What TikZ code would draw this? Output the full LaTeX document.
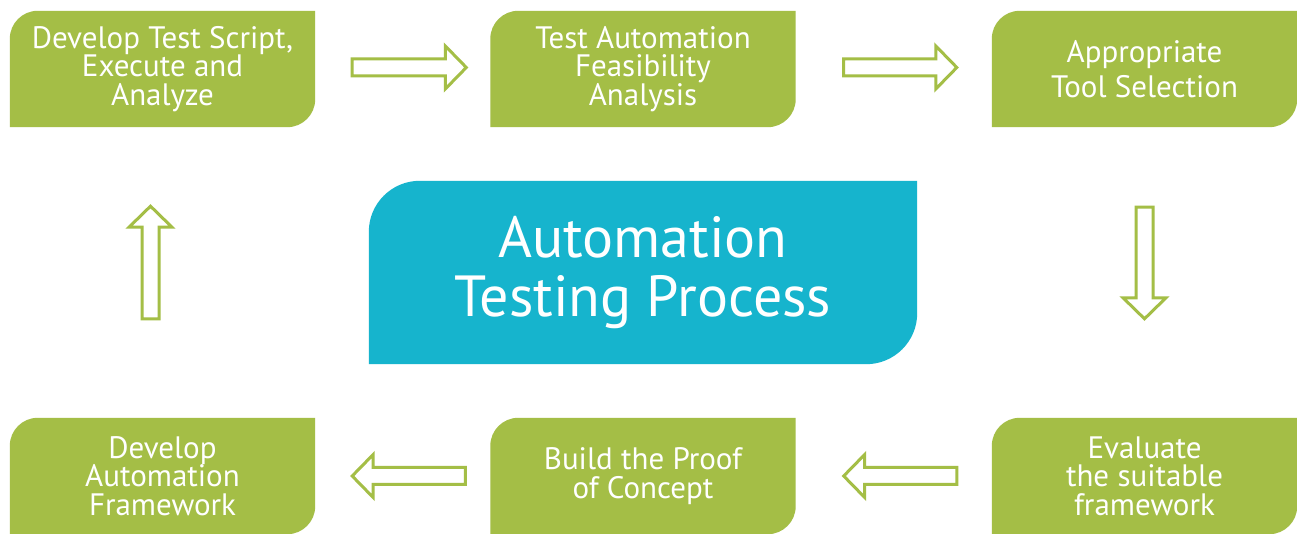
\documentclass[tikz,border=0pt]{standalone}
\usepackage{fontspec}
\setmainfont{PT Sans}
\usetikzlibrary{calc,backgrounds}

\definecolor{leafgreen}{RGB}{164,190,70}
\definecolor{hubteal}{RGB}{22,180,205}

% leaf-shaped panel: rounded top-left and bottom-right corners
\newcommand\leafpanel[3]{% node name, corner radius, colour
  \fill[#3] (#1.south west) -- ([yshift=-#2]#1.north west)
    arc[start angle=180, end angle=90, radius=#2] -- (#1.north east)
    -- ([yshift=#2]#1.south east)
    arc[start angle=0, end angle=-90, radius=#2] -- cycle;}

% hollow block arrow from a tail coordinate to a tip coordinate
\newcommand\hollowarrow[2]{%
  \coordinate (hb) at ($(#2)!21pt!(#1)$);
  \draw[hollow] ($(#1)!8.5pt!90:(#2)$) -- ($(hb)!8.5pt!90:(#2)$)
    -- ($(hb)!21.5pt!90:(#2)$) -- (#2) -- ($(hb)!21.5pt!-90:(#2)$)
    -- ($(hb)!8.5pt!-90:(#2)$) -- ($(#1)!8.5pt!-90:(#2)$) -- cycle;}

\begin{document}
\begin{tikzpicture}[x=1pt, y=1pt,
  stepbox/.style={minimum width=305pt, minimum height=116pt, inner sep=0pt,
    text=white, align=center, font=\fontsize{31}{28.5}\selectfont},
  hubbox/.style={minimum width=548pt, minimum height=183pt, inner sep=0pt,
    text=white, align=center, font=\fontsize{58}{59}\selectfont},
  hollow/.style={draw=leafgreen, fill=white, line width=3pt, line join=miter}]

\useasboundingbox (0,0) rectangle (1297,534);

% process steps
\node[stepbox] (b1) at (162.5,465) {Develop Test Script,\\Execute and\\Analyze};
\node[stepbox] (b2) at (643,465) {Test Automation\\Feasibility\\Analysis};
\node[stepbox] (b3) at (1144.5,465) {Appropriate\\[7pt]Tool Selection};
\node[stepbox] (b4) at (162.5,58) {Develop\\Automation\\Framework};
\node[stepbox] (b5) at (643,58) {Build the Proof\\of Concept};
\node[stepbox] (b6) at (1144.5,58) {Evaluate\\the suitable\\framework};

% central title
\node[hubbox] (hub) at (643,261.5) {Automation\\Testing Process};

\begin{scope}[on background layer]
  \fill[white] (0,0) rectangle (1297,534);
  \foreach \n in {b1,b2,b3,b4,b5,b6} {\leafpanel{\n}{28pt}{leafgreen}}
  \leafpanel{hub}{51pt}{hubteal}
\end{scope}

% arrow end points
\coordinate (t1) at ($(b1.east)+(37,1.5)$);
\coordinate (h1) at ($(b2.west)+(-24,1.5)$);
\coordinate (t2) at ($(b2.east)+(48,1.5)$);
\coordinate (h2) at ($(b3.west)+(-35,1.5)$);
\coordinate (t3) at ($(b3.south)+(0,-80)$);
\coordinate (h3) at ($(b6.north)+(0,99)$);
\coordinate (t4) at ($(b6.west)+(-35,0)$);
\coordinate (h4) at ($(b5.east)+(48,0)$);
\coordinate (t5) at ($(b5.west)+(-25,0)$);
\coordinate (h5) at ($(b4.east)+(37,0)$);
\coordinate (t6) at ($(b4.north)+(-12,99)$);
\coordinate (h6) at ($(b1.south)+(-12,-79)$);

\hollowarrow{t1}{h1}
\hollowarrow{t2}{h2}
\hollowarrow{t3}{h3}
\hollowarrow{t4}{h4}
\hollowarrow{t5}{h5}
\hollowarrow{t6}{h6}
\end{tikzpicture}
\end{document}
